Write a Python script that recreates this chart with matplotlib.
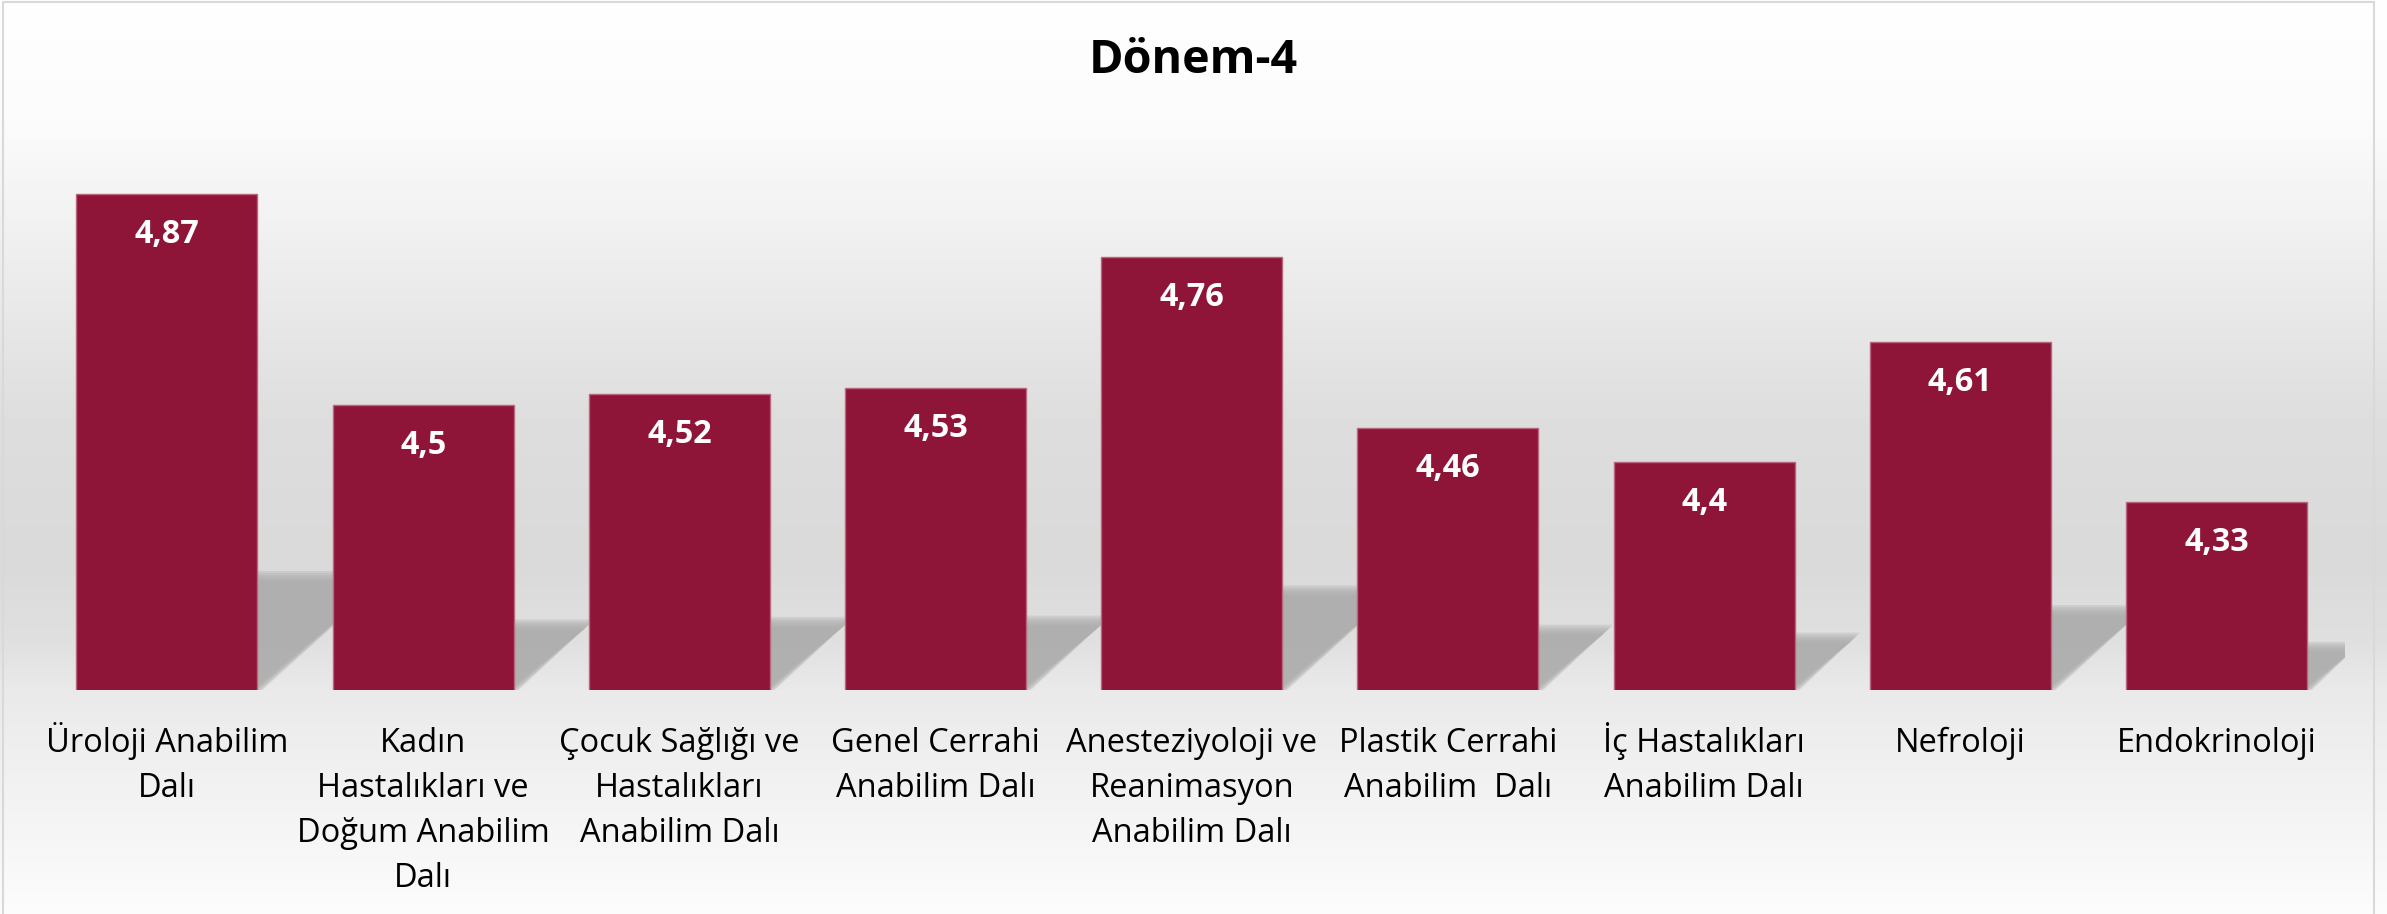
import matplotlib
matplotlib.use('Agg')
import matplotlib.pyplot as plt
from matplotlib.patches import Polygon, Rectangle
import numpy as np

# veriler
bolumler = ['Üroloji Anabilim\nDalı',
            'Kadın\nHastalıkları ve\nDoğum Anabilim\nDalı',
            'Çocuk Sağlığı ve\nHastalıkları\nAnabilim Dalı',
            'Genel Cerrahi\nAnabilim Dalı',
            'Anesteziyoloji ve\nReanimasyon\nAnabilim Dalı',
            'Plastik Cerrahi\nAnabilim  Dalı',
            'İç Hastalıkları\nAnabilim Dalı',
            'Nefroloji',
            'Endokrinoloji']
puanlar = [4.87, 4.5, 4.52, 4.53, 4.76, 4.46, 4.4, 4.61, 4.33]
etiketler = [str(p).replace('.', ',') for p in puanlar]
baslik = 'Dönem-4'

plt.rcParams['font.family'] = ['Open Sans', 'DejaVu Sans']

W, H = 2387, 914
fig = plt.figure(figsize=(W / 100, H / 100), dpi=100)

# arka plan: dikey gri gradyan
bg = fig.add_axes([0, 0, 1, 1], zorder=0)
ys = [0, 120, 300, 420, 560, 640, 690, 760, 850, 914]
gri = [255, 252, 234, 222, 218, 224, 234, 240, 247, 253]
g = np.interp(np.arange(H), ys, gri) / 255
img = np.dstack([g, g, g])[:, None, :].reshape(H, 1, 3)
bg.imshow(img, aspect='auto', extent=[0, 1, 0, 1], interpolation='bilinear')
bg.axis('off')

# grafik alani (piksel olcusu referanstan)
taban, tepe = 690, 120
ax = fig.add_axes([38.9 / W, (H - taban) / H, 2305.7 / W, (taban - tepe) / H], zorder=1)
ax.patch.set_alpha(0)
ax.set_xlim(-0.5, len(puanlar) - 0.5)
ax.set_ylim(4, 5)
for s in ax.spines.values():
    s.set_visible(False)
ax.set_xticks([])
ax.set_yticks([])

x = np.arange(len(puanlar))
gen = 0.7065
px_x = 2305.7 / len(puanlar)   # piksel / kategori
px_y = taban - tepe            # piksel / birim

# golgeler (yumusak kenar icin katmanli)
for i, v in enumerate(puanlar):
    h = v - 4
    dy = 0.23 * h
    dx = 0.59 * h
    xl, xr = i - gen / 2, i + gen / 2
    for e in np.linspace(-5, 5, 6):
        ex, ey = e / px_x, e / px_y
        poly = Polygon([(xl, 4), (xr + ex, 4), (xr + dx + ex, 4 + dy + ey), (xl + dx, 4 + dy + ey)],
                       closed=True, facecolor='#ababab', edgecolor='none', alpha=0.3, zorder=1)
        ax.add_patch(poly)

ax.bar(x, puanlar, width=gen, color='#8E1537', edgecolor='#b8657d', linewidth=1, zorder=3)

for i, (v, t) in enumerate(zip(puanlar, etiketler)):
    ax.annotate(t, (i, v), xytext=(0, -49 * 0.72), textcoords='offset points',
                ha='center', va='baseline', color='white', fontsize=23.3, fontweight='bold', zorder=4)

# kategori etiketleri, satir satir
for i, b in enumerate(bolumler):
    for k, satir in enumerate(b.split('\n')):
        ax.annotate(satir, (i, 4), xytext=(0, -(61.7 + 45 * k) * 0.72), textcoords='offset points',
                    ha='center', va='baseline', color='black', fontsize=23.5, annotation_clip=False)

fig.text(0.5, 1 - 72.7 / H, baslik, ha='center', va='baseline', fontsize=33.6, fontweight='bold')

fig.patches.append(Rectangle((3 / W, -0.01), (2374 - 3) / W, 1.01 - 2 / H + 0.0, transform=fig.transFigure,
                             fill=False, edgecolor='#d9d9d9', linewidth=1.5, zorder=5))

fig.savefig('out.png', dpi=100)
